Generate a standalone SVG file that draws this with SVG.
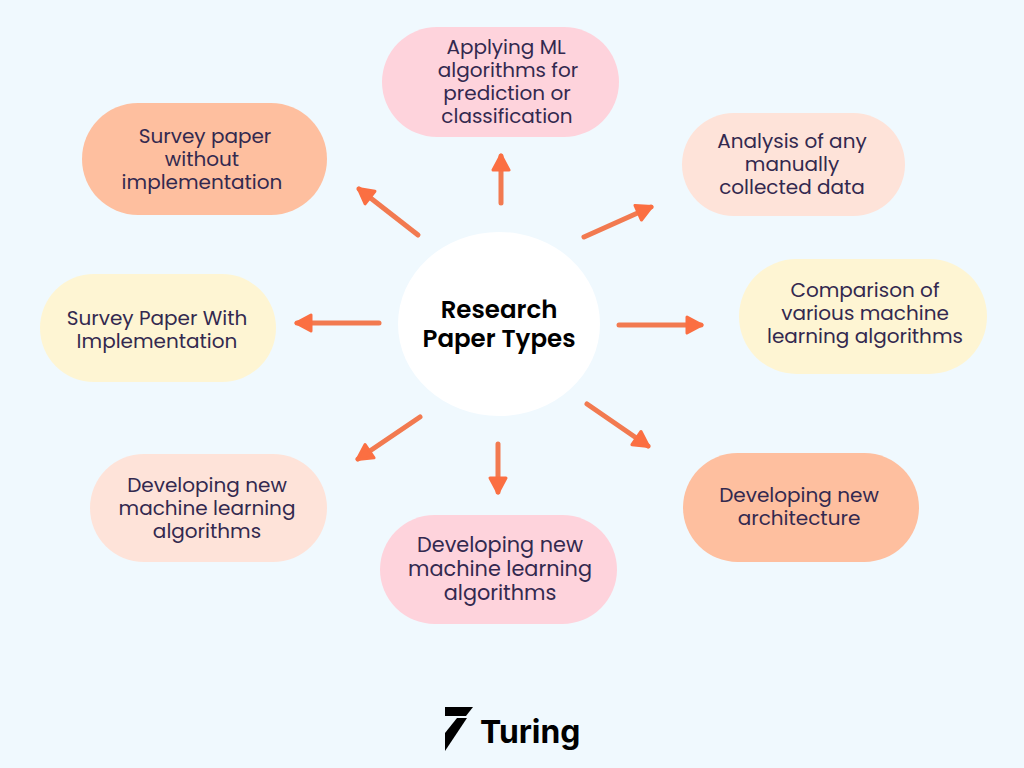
<svg xmlns="http://www.w3.org/2000/svg" width="1024" height="768" viewBox="0 0 1024 768">
<style>
.t{font-family:Poppins,"Liberation Sans","Noto Sans",sans-serif;font-size:20px;fill:#33294f;text-anchor:middle}
.b{font-size:20.8px}
.c{font-family:Poppins,"Liberation Sans","Noto Sans",sans-serif;font-size:24.5px;font-weight:600;fill:#000;text-anchor:middle}
.l{font-family:Inter,"Liberation Sans",sans-serif;font-size:31.8px;font-weight:700;fill:#000}
.a{stroke:#f27a50;stroke-width:5;stroke-linecap:round;fill:none;marker-end:url(#m)}
</style>
<defs><marker id="m" markerUnits="userSpaceOnUse" markerWidth="26" markerHeight="26" refX="17" refY="11" orient="auto"><path d="M3 3L18 11L3 19Z" fill="#fb6f42" stroke="#fb6f42" stroke-width="3" stroke-linejoin="round"/></marker></defs>
<rect width="1024" height="768" fill="#f0f9fe"/>
<g id="connectors">
<line class="a" x1="501" y1="203" x2="501" y2="156"/>
<line class="a" x1="584" y1="237" x2="651" y2="207"/>
<line class="a" x1="619" y1="325" x2="701" y2="325"/>
<line class="a" x1="587" y1="404" x2="648" y2="446"/>
<line class="a" x1="498" y1="444" x2="498" y2="492"/>
<line class="a" x1="420" y1="417" x2="358" y2="459"/>
<line class="a" x1="379" y1="323" x2="297" y2="323"/>
<line class="a" x1="418" y1="235" x2="359" y2="189"/>
</g>
<g id="center"><ellipse cx="499" cy="324" rx="101" ry="92" fill="#fff"/><text class="c" x="499" y="318">Research</text><text class="c" x="499" y="347">Paper Types</text></g>
<g id="n1"><rect x="382" y="27" width="237" height="110" rx="55" fill="#fed3dc"/><text class="t" x="506" y="54">Applying ML</text><text class="t" x="508" y="77">algorithms for</text><text class="t" x="507" y="100">prediction or</text><text class="t" x="507" y="123">classification</text></g>
<g id="n2"><rect x="682" y="113" width="223" height="103" rx="51.5" fill="#fee3d9"/><text class="t" x="792" y="148">Analysis of any</text><text class="t" x="792" y="171">manually</text><text class="t" x="792" y="194">collected data</text></g>
<g id="n3"><rect x="739" y="259" width="248" height="115" rx="57.5" fill="#fef5d3"/><text class="t" x="865" y="297">Comparison of</text><text class="t" x="865" y="320">various machine</text><text class="t" x="865" y="343">learning algorithms</text></g>
<g id="n4"><rect x="683" y="453" width="236" height="109" rx="54.5" fill="#feBf9f"/><text class="t" x="799" y="502">Developing new</text><text class="t" x="799" y="525">architecture</text></g>
<g id="n5"><rect x="380" y="515" width="237" height="109" rx="54.5" fill="#fed3dc"/><text class="t b" x="500" y="552">Developing new</text><text class="t b" x="500" y="576">machine learning</text><text class="t b" x="500" y="600">algorithms</text></g>
<g id="n6"><rect x="90" y="454" width="237" height="108" rx="54" fill="#fee3d9"/><text class="t" x="207" y="492">Developing new</text><text class="t" x="207" y="515">machine learning</text><text class="t" x="207" y="538">algorithms</text></g>
<g id="n7"><rect x="40" y="274" width="236" height="108" rx="54" fill="#fef5d3"/><text class="t" x="157" y="325">Survey Paper With</text><text class="t" x="157" y="348">Implementation</text></g>
<g id="n8"><rect x="82" y="103" width="245" height="112" rx="56" fill="#feBf9f"/><text class="t" x="205" y="143">Survey paper</text><text class="t" x="202" y="166">without</text><text class="t" x="202" y="189">implementation</text></g>
<g id="logo"><path d="M445 707H473L466 716H445Z" fill="#000"/><path d="M457 718H467L445 751V733Z" fill="#000"/><text class="l" x="480" y="743">Turing</text></g>
</svg>
